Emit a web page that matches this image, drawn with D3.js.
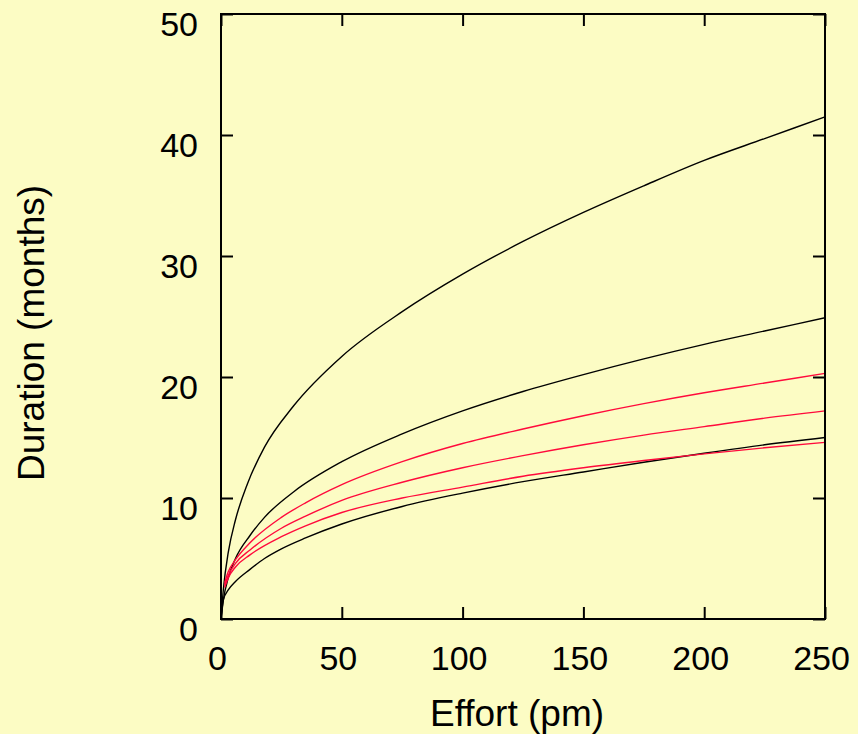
<!DOCTYPE html>
<html>
<head>
<meta charset="utf-8">
<script src="https://cdn.jsdelivr.net/npm/d3@7"></script>
<style>
  html, body { margin: 0; padding: 0; background: #fcfcc4; }
  svg { display: block; }
  text { font-family: "Liberation Sans", Arial, sans-serif; fill: #000; }
</style>
</head>
<body>
<svg id="chart" width="858" height="734"></svg>
<script>
// Duration vs. effort curves (effort in person-months, duration in months)
const xTicks = [0, 50, 100, 150, 200, 250];
const yTicks = [0, 10, 20, 30, 40, 50];

// Black model curves
const blackUpper = [[0,0],[1,2.5],[3,5.5],[6,8.2],[11,11.2],[18,14.2],[30,17.6],[50,21.7],[75,25.4],[100,28.5],[125,31.2],[150,33.6],[175,35.8],[200,37.9],[225,39.7],[250,41.5]];
const blackMiddle = [[0,0],[1,1.6],[3,3.4],[6,5.0],[12,6.9],[18,8.4],[30,10.5],[50,13.0],[75,15.3],[100,17.2],[125,18.8],[150,20.2],[175,21.5],[200,22.7],[225,23.8],[250,24.9]];
const blackLower = [[0,0],[1,1.6],[3,2.4],[6,3.1],[12,4.1],[18,5.0],[25,5.8],[35,6.7],[50,7.85],[75,9.3],[100,10.4],[125,11.35],[150,12.15],[175,12.95],[200,13.7],[225,14.4],[250,15.0]];

// Red model curves
const redUpper = [[1.5,3.0],[3,3.9],[6,4.9],[12,6.3],[25,8.4],[35,9.6],[50,11.1],[75,13.0],[100,14.5],[125,15.7],[150,16.8],[175,17.8],[200,18.7],[225,19.5],[250,20.3]];
const redMiddle = [[1.5,2.8],[3,3.6],[6,4.6],[12,5.7],[25,7.5],[35,8.5],[50,9.8],[75,11.3],[100,12.5],[125,13.5],[150,14.4],[175,15.2],[200,15.9],[225,16.6],[250,17.2]];
const redLower = [[1.5,2.6],[3,3.4],[6,4.3],[12,5.3],[25,6.8],[35,7.7],[50,8.8],[75,10.0],[100,10.9],[125,11.8],[150,12.5],[175,13.1],[200,13.65],[225,14.15],[250,14.6]];

const seriesList = [
  { data: blackUpper, color: "#000000" },
  { data: blackMiddle, color: "#000000" },
  { data: blackLower, color: "#000000" },
  { data: redUpper, color: "#ff0a3c" },
  { data: redMiddle, color: "#ff0a3c" },
  { data: redLower, color: "#ff0a3c" }
];

const svg = d3.select("#chart");
const plotLeft = 221, plotRight = 825, plotTop = 14, plotBottom = 619;

const x = d3.scaleLinear().domain([0, 250]).range([plotLeft, plotRight]);
const y = d3.scaleLinear().domain([0, 50]).range([plotBottom, plotTop]);

svg.append("rect").attr("width", 858).attr("height", 734).attr("fill", "#fcfcc4");

// Curves
const line = d3.line()
  .x(d => x(d[0]))
  .y(d => y(d[1]))
  .curve(d3.curveMonotoneX);

svg.append("g")
  .selectAll("path")
  .data(seriesList)
  .join("path")
  .attr("d", d => line(d.data))
  .attr("fill", "none")
  .attr("stroke", d => d.color)
  .attr("stroke-width", 1.4);

const fontSize = 34;
const titleSize = 37;
const tickLen = 12;

// Bottom axis with labels
const gBottom = svg.append("g")
  .attr("transform", `translate(0,${plotBottom})`)
  .call(d3.axisBottom(x).tickValues(xTicks).tickSizeInner(-tickLen).tickSizeOuter(0).tickPadding(27));
// Top axis, ticks only
const gTop = svg.append("g")
  .attr("transform", `translate(0,${plotTop})`)
  .call(d3.axisTop(x).tickValues(xTicks).tickSizeInner(-tickLen).tickSizeOuter(0).tickFormat(""));
// Left axis with labels
const gLeft = svg.append("g")
  .attr("transform", `translate(${plotLeft},0)`)
  .call(d3.axisLeft(y).tickValues(yTicks).tickSizeInner(-tickLen).tickSizeOuter(0).tickPadding(23));
// Right axis, ticks only
const gRight = svg.append("g")
  .attr("transform", `translate(${plotRight},0)`)
  .call(d3.axisRight(y).tickValues(yTicks).tickSizeInner(-tickLen).tickSizeOuter(0).tickFormat(""));

[gBottom, gTop, gLeft, gRight].forEach(g => {
  g.select(".domain").remove();
  g.selectAll(".tick line").attr("stroke", "#000").attr("stroke-width", 2);
  g.selectAll(".tick text")
    .attr("font-family", "Liberation Sans, Arial, sans-serif")
    .attr("font-size", fontSize)
    .attr("fill", "#000");
});
gBottom.selectAll(".tick text").attr("dx", -4);
gLeft.selectAll(".tick text").attr("dy", "0.62em");

// Frame
svg.append("rect")
  .attr("x", plotLeft).attr("y", plotTop)
  .attr("width", plotRight - plotLeft).attr("height", plotBottom - plotTop)
  .attr("fill", "none")
  .attr("stroke", "#000")
  .attr("stroke-width", 2);

// Axis titles
svg.append("text")
  .attr("x", 517).attr("y", 726)
  .attr("text-anchor", "middle")
  .attr("font-size", titleSize)
  .text("Effort (pm)");

svg.append("text")
  .attr("transform", "translate(44,333) rotate(-90)")
  .attr("text-anchor", "middle")
  .attr("font-size", titleSize)
  .text("Duration (months)");
</script>
</body>
</html>
